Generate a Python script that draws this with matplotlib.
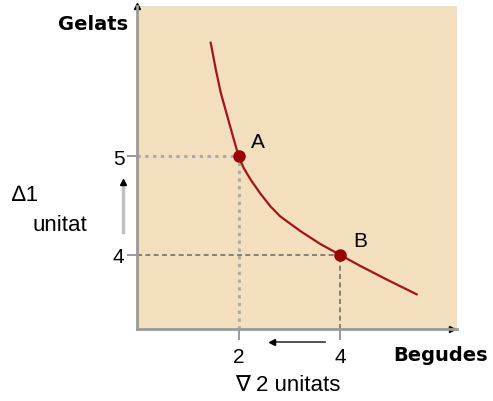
import matplotlib.pyplot as plt

# indifference curve
curve_x = [1.45, 1.55, 1.65, 1.78, 1.90, 2.0, 2.1, 2.24, 2.43, 2.63, 2.82, 3.22, 3.61, 4.0, 4.39, 4.92, 5.51]
curve_y = [6.15, 5.88, 5.64, 5.40, 5.18, 5.0, 4.88, 4.76, 4.62, 4.49, 4.39, 4.24, 4.11, 4.0, 3.89, 3.75, 3.60]

point_names = ["A", "B"]
point_x = [2, 4]
point_y = [5, 4]

x_ticks = [2, 4]
y_ticks = [4, 5]

W, H = 493, 402
fig = plt.figure(figsize=(W / 100, H / 100), dpi=100)
ax = fig.add_axes([137 / W, 72 / H, 320 / W, 323 / H])
ax.set_facecolor("#F3DFBD")
ax.set_xlim(0, 6.3)
ax.set_ylim(3.25, 6.52)

for s in ["top", "right"]:
    ax.spines[s].set_visible(False)
for s in ["left", "bottom"]:
    ax.spines[s].set_color("#9a9a9a")
    ax.spines[s].set_linewidth(2)

# axis arrow heads
ax.plot(0, 1, marker="^", color="black", markersize=5, transform=ax.transAxes, clip_on=False)
ax.plot(0.985, 0, marker=">", color="black", markersize=5, transform=ax.transAxes, clip_on=False)

ax.set_xticks(x_ticks)
ax.set_yticks(y_ticks)
ax.tick_params(axis="x", length=8, width=1.2, color="#8a8a8a", pad=5)
ax.tick_params(axis="y", length=7, width=1.2, color="#8a8a8a", pad=2)
for lab in ax.get_xticklabels() + ax.get_yticklabels():
    lab.set_fontfamily("Liberation Sans")
    lab.set_fontsize(15)

# guide lines to the axes
ax.plot([0, point_x[0]], [point_y[0], point_y[0]], ls=(0, (1.2, 1.6)), color="#a8a8a8", lw=2)
ax.plot([point_x[0], point_x[0]], [3.25, point_y[0]], ls=(0, (1.2, 1.6)), color="#a8a8a8", lw=2)
ax.plot([0, point_x[1]], [point_y[1], point_y[1]], ls=(0, (3, 2)), color="#707070", lw=1.2)
ax.plot([point_x[1], point_x[1]], [3.25, point_y[1]], ls=(0, (3, 2)), color="#707070", lw=1.2)

ax.plot(curve_x, curve_y, color="#A31515", lw=1.6, solid_capstyle="round", solid_joinstyle="round")
ax.plot(point_x, point_y, "o", color="#990000", markersize=8)
for name, x, y in zip(point_names, point_x, point_y):
    ax.text(x + 0.25, y + 0.05, name, fontsize=15, family="Liberation Sans", va="bottom")

# axis titles
fig.text(128 / W, 1 - 24 / H, "Gelats", ha="right", va="center", fontsize=14, fontweight="bold")
fig.text(488 / W, 1 - 356 / H, "Begudes", ha="right", va="center", fontsize=14, fontweight="bold")

# change annotations
fig.text(12 / W, 1 - 196 / H, "\u22061", ha="left", va="center", fontsize=16,
         family=["Liberation Sans", "DejaVu Sans"])
fig.text(32 / W, 1 - 226 / H, "unitat", ha="left", va="center", fontsize=16, family="Liberation Sans")
fig.text(235 / W, 1 - 386 / H, "\u2207 2 unitats", ha="left", va="center", fontsize=16,
         family=["Liberation Sans", "DejaVu Sans"])

fig.add_artist(plt.Line2D([123 / W, 123 / W], [1 - 233 / H, 1 - 185 / H], color="#c0c0c0", lw=2.5))
fig.add_artist(plt.Line2D([123 / W], [1 - 183 / H], marker="^", color="black", markersize=5))
fig.add_artist(plt.Line2D([275 / W, 325 / W], [1 - 343 / H, 1 - 343 / H], color="#333333", lw=1.2))
fig.add_artist(plt.Line2D([272 / W], [1 - 343 / H], marker="<", color="black", markersize=5))

fig.savefig("out.png", dpi=100)
